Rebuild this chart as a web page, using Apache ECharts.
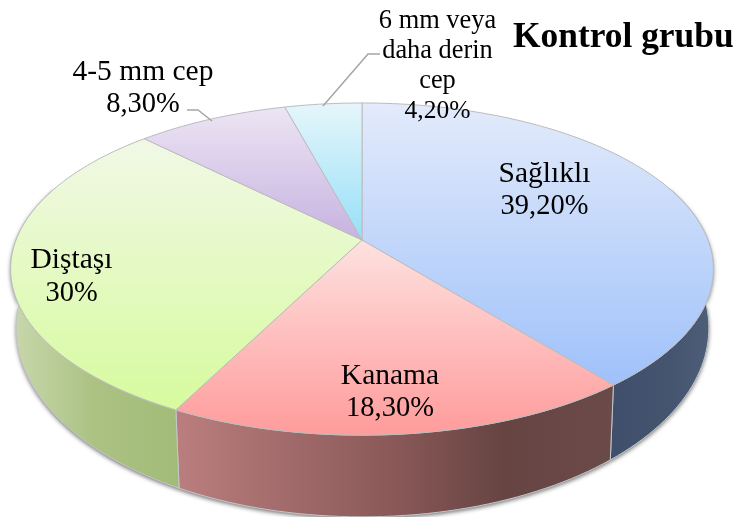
<!DOCTYPE html>
<html><head><meta charset="utf-8">
<style>html,body{margin:0;padding:0;background:#fff}#c{width:739px;height:517px}</style>
<script src="https://cdn.jsdelivr.net/npm/echarts@6/dist/echarts.min.js"></script>
</head><body><div id="c"></div>
<script>
// --- data ---
const categories = ['Sağlıklı', 'Kanama', 'Diştaşı', '4-5 mm cep', '6 mm veya\ndaha derin\ncep'];
const values = [39.2, 18.3, 30, 8.3, 4.2];
const valueLabels = ['39,20%', '18,30%', '30%', '8,30%', '4,20%'];
const chartTitle = 'Kontrol grubu';

// --- styling / layout ---
const FONT = '"Liberation Serif","Times New Roman",serif';
const topColors = [['#e3ebfb','#9fc1fa'],['#fde2e0','#ff9b9b'],['#f1f8e6','#d7fb9e'],['#ede5f4','#c6b2e0'],['#e6f6fb','#96dff8']];
const wallColors = [
  [[0,'#3f4e6a'],[0.6,'#455570'],[1,'#4f5f78']],
  [[0,'#bb7e7e'],[0.5,'#8a5858'],[0.75,'#664442'],[1,'#6b4a4a']],
  [[0,'#c9d8ad'],[0.5,'#abc283'],[1,'#a3bb78']]
];
const labelLayout = [
  {x:544.5, y:172, dy:33, size:29.5, vsize:28.5},
  {x:390, y:374, dy:33, size:29.5, vsize:28.5},
  {x:71.5, y:258, dy:33.5, size:29.5, vsize:28.5},
  {x:143, y:70,  dy:33, size:29.5, vsize:28.5},
  {x:437.5, y:19, dy:30, size:26.4, vsize:25.5}
];
const leaders = {3:[[187,110],[198,110],[212,121]], 4:[[323,106],[368,54],[380,54]]};
const top3d = {cx:362, cy:240, R:346, S:161, k:0.175};
const bottom3d = {cx:362.5, cy:295, R:341, S:183, k:0.175};
const total = values.reduce((a,b)=>a+b,0);

function proj(d, deg){
  const t = deg*Math.PI/180, u = Math.sin(t), v = -Math.cos(t), w = 1-d.k*v;
  return [d.cx + d.R*u/w, d.cy + d.S*v/w];
}
function arc(d, a, b){
  const n = Math.max(2, Math.ceil(Math.abs(b-a)/1.5)), p = [];
  for(let i=0;i<=n;i++) p.push(proj(d, a+(b-a)*i/n));
  return p;
}
function grad(x0,y0,x1,y1,stops){
  return new echarts.graphic.LinearGradient(x0,y0,x1,y1,stops.map(s=>({offset:s[0],color:s[1]})));
}
function renderItem(params, api){
  const i = params.dataIndex;
  let before = 0;
  for(let j=0;j<i;j++) before += values[j];
  const a0 = before/total*360, a1 = (before+api.value(0))/total*360;
  const children = [];
  const wa = Math.max(a0,70), wb = Math.min(a1,290);
  if(wb>wa){
    const pts = arc(top3d,wa,wb).concat(arc(bottom3d,wa,wb).reverse());
    children.push({type:'polygon', z2:1, shape:{points:pts},
      style:{fill:'#888', shadowColor:'rgba(0,0,0,0.55)', shadowBlur:4, shadowOffsetX:0, shadowOffsetY:2}});
    children.push({type:'polygon', z2:2, shape:{points:pts},
      style:{fill:grad(0,0,1,0,wallColors[i]), stroke:'#c4c8cc', lineWidth:1}});
  }
  const face = [[top3d.cx,top3d.cy]].concat(arc(top3d,a0,a1));
  children.push({type:'polygon', z2:3, shape:{points:face},
    style:{fill:grad(0,0,0,1,[[0,topColors[i][0]],[1,topColors[i][1]]]), stroke:'#bcbcbc', lineWidth:1, lineJoin:'round'}});
  if(leaders[i]) children.push({type:'polyline', z2:4, shape:{points:leaders[i]},
    style:{fill:null, stroke:'#a6a6a6', lineWidth:1.5}});
  const L = labelLayout[i];
  const lines = categories[i].split('\n').concat(valueLabels[i]);
  lines.forEach((t,n)=>children.push({type:'text', z2:5, x:L.x, y:L.y+n*L.dy+2,
    style:{text:t, fontFamily:FONT, fontSize:n===lines.length-1?L.vsize:L.size, fill:'#000', align:'center', verticalAlign:'middle'}}));
  return {type:'group', children};
}
const chart = echarts.init(document.getElementById('c'), null, {renderer:'canvas'});
chart.setOption({
  animation:false,
  backgroundColor:'#fff',
  title:{text:chartTitle, left:513, top:20, padding:0,
    textStyle:{fontFamily:FONT, fontWeight:'bold', fontSize:35.4, color:'#000'}},
  series:[{type:'custom', coordinateSystem:'none', silent:true, clip:false,
    renderItem, data:values.map((v,i)=>({name:categories[i], value:[v]}))}]
});
</script></body></html>
